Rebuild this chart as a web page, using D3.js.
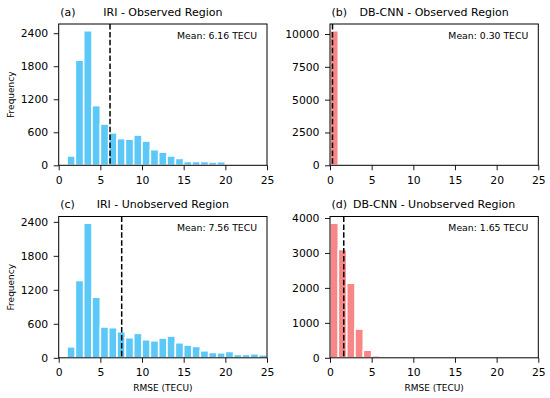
<!DOCTYPE html>
<html>
<head>
<meta charset="utf-8">
<script src="https://cdn.jsdelivr.net/npm/d3@7"></script>
<style>
    body { margin: 0; background: #fff; }
    text { font-family: "DejaVu Sans", sans-serif; fill: #000; }
</style>
</head>
<body>
<div class="container"></div>
<script>
// RMSE HISTOGRAMS, 2x2

var width = 550;
var height = 398;

// bins are 1 TECU wide, starting at 0
var iriObserved = [0, 170, 1910, 2445, 1085, 750, 590, 485, 475, 550, 440, 285, 240, 170, 125, 70, 70, 70, 60, 65, 12, 0, 0, 0, 0];
var cnnObserved = [10250];
var iriUnobserved = [0, 195, 1365, 2376, 1070, 544, 532, 461, 355, 432, 319, 301, 349, 384, 266, 225, 201, 124, 95, 89, 112, 59, 59, 71, 53];
var cnnUnobserved = [3850, 3100, 2135, 823, 220, 57];

var means = [6.16, 0.30, 7.56, 1.65];
var letters = ["(a)", "(b)", "(c)", "(d)"];
var titles = ["IRI - Observed Region", "DB-CNN - Observed Region", "IRI - Unobserved Region", "DB-CNN - Unobserved Region"];
var yTicks = [
    [0, 600, 1200, 1800, 2400],
    [0, 2500, 5000, 7500, 10000],
    [0, 600, 1200, 1800, 2400],
    [0, 1000, 2000, 3000, 4000]
];
var xTicks = [0, 5, 10, 15, 20, 25];

var blue = "#5bc8f7";
var red = "#f98686";

var panels = [
    {counts: iriObserved,   left: 58.7, top: 24,    color: blue, row: 0, col: 0},
    {counts: cnnObserved,   left: 330,  top: 24,    color: red,  row: 0, col: 1},
    {counts: iriUnobserved, left: 58.7, top: 216.5, color: blue, row: 1, col: 0},
    {counts: cnnUnobserved, left: 330,  top: 216.5, color: red,  row: 1, col: 1}
];
var pw = 208.3;
var ph = 141.3;

const svg = d3.select(".container")
    .append("svg")
    .attr("width", width)
    .attr("height", height);

panels.forEach(function(p, i)
{
    var g = svg.append("g")
        .attr("transform", "translate(" + p.left + "," + p.top + ")");

    var x = d3.scaleLinear().domain([0, 25]).range([0, pw]);
    var y = d3.scaleLinear().domain([0, d3.max(p.counts) * 1.05]).range([ph, 0]);

    // bars with a white edge
    g.selectAll("rect.bar")
        .data(p.counts)
        .enter()
        .append("rect")
        .attr("class", "bar")
        .attr("x", function(d, k) { return x(k); })
        .attr("width", function(d, k) { return x(k + 1) - x(k); })
        .attr("y", function(d) { return y(d); })
        .attr("height", function(d) { return ph - y(d); })
        .style("fill", p.color)
        .style("stroke", function(d) { return d > 0 ? "#fff" : "none"; })
        .style("stroke-width", 1.6);

    // mean line
    g.append("line")
        .attr("x1", x(means[i]))
        .attr("x2", x(means[i]))
        .attr("y1", 0)
        .attr("y2", ph)
        .style("stroke", "#000")
        .style("stroke-width", 1.5)
        .style("stroke-dasharray", "5.5,2.4");

    var xAxis = d3.axisBottom(x).tickValues(xTicks).tickSize(5).tickPadding(6).tickFormat(d3.format("d"));
    var yAxis = d3.axisLeft(y).tickValues(yTicks[i]).tickSize(5).tickPadding(5.5).tickFormat(d3.format("d"));

    g.append("g")
        .attr("transform", "translate(0," + ph + ")")
        .call(xAxis)
        .call(function(a) { a.select(".domain").remove(); })
        .selectAll("text")
        .style("font-size", "10.8px")
        .style("font-family", "DejaVu Sans");

    g.append("g")
        .call(yAxis)
        .call(function(a) { a.select(".domain").remove(); })
        .selectAll("text")
        .style("font-size", "10.8px")
        .style("font-family", "DejaVu Sans");

    g.selectAll(".tick line").style("stroke", "#000").style("stroke-width", 0.9);

    // frame
    g.append("rect")
        .attr("width", pw)
        .attr("height", ph)
        .style("fill", "none")
        .style("stroke", "#000")
        .style("stroke-width", 1);

    g.append("text")
        .attr("x", pw - 10)
        .attr("y", 14.5)
        .attr("text-anchor", "end")
        .style("font-size", "9.3px")
        .text("Mean: " + means[i].toFixed(2) + " TECU");

    g.append("text")
        .attr("x", 1.5)
        .attr("y", -8.5)
        .style("font-size", "11px")
        .text(letters[i]);

    g.append("text")
        .attr("x", pw / 2)
        .attr("y", -8.5)
        .attr("text-anchor", "middle")
        .style("font-size", "11px")
        .text(titles[i]);

    if (p.col == 0)
    {
        g.append("text")
            .attr("transform", "translate(-45," + (ph / 2) + ") rotate(-90)")
            .attr("text-anchor", "middle")
            .style("font-size", "9px")
            .text("Frequency");
    }
    if (p.row == 1)
    {
        g.append("text")
            .attr("x", pw / 2)
            .attr("y", ph + 33)
            .attr("text-anchor", "middle")
            .style("font-size", "9px")
            .text("RMSE (TECU)");
    }
});
</script>
</body>
</html>
